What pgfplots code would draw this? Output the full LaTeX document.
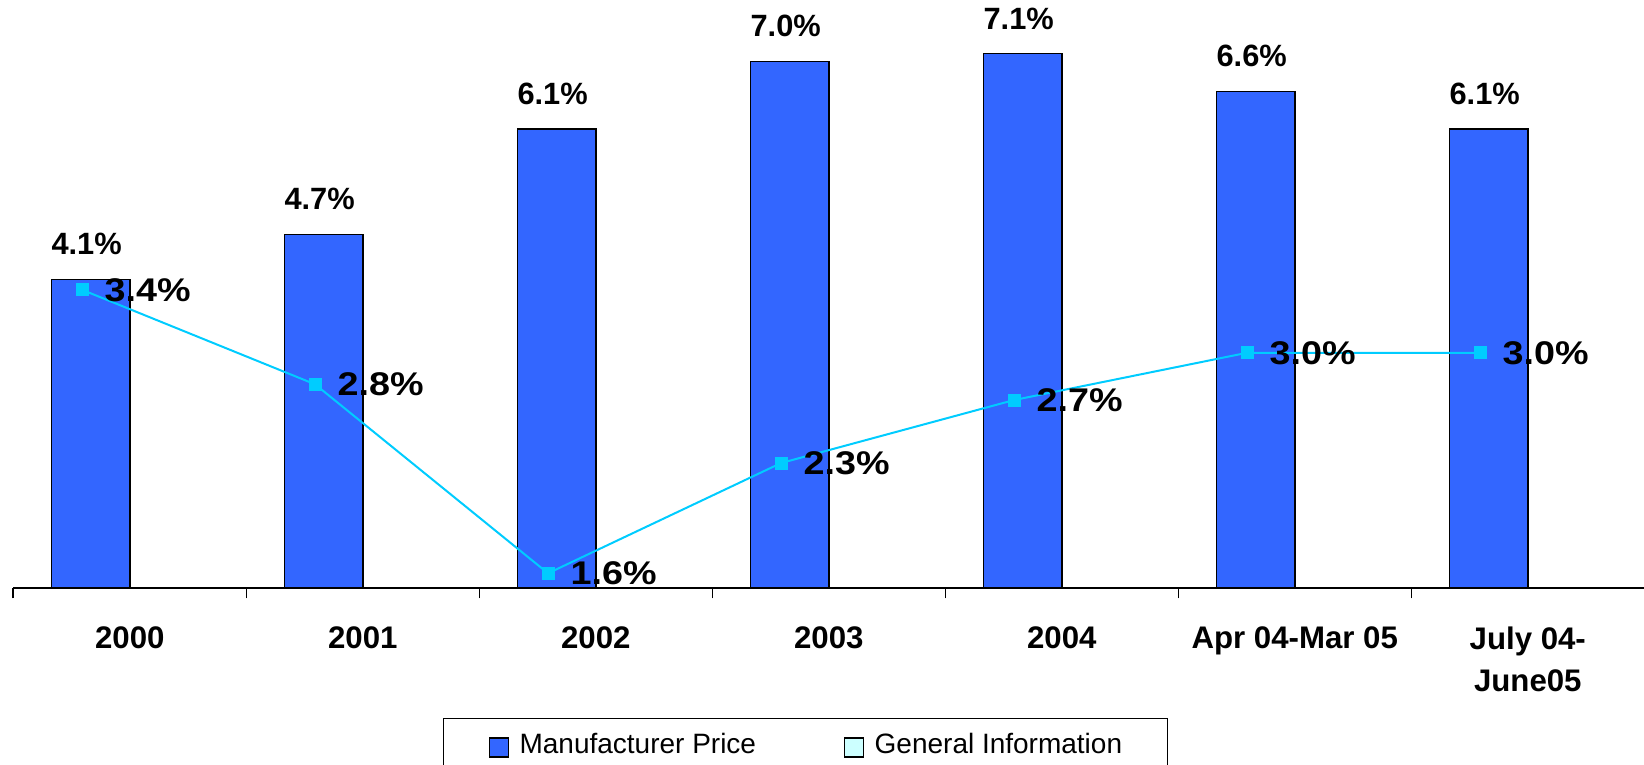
\documentclass[border=0pt]{standalone}
\usepackage{fontspec}
\setmainfont{Liberation Sans}
\newfontfamily\widefont[FakeStretch=1.15]{Liberation Sans}
\usepackage{pgfplots}
\usepackage{pgfplotstable}
\pgfplotsset{compat=1.18}
\definecolor{mpblue}{HTML}{3366FF}
\definecolor{gicyan}{HTML}{00CCFF}
\definecolor{gilight}{HTML}{CCFFFF}

\pgfplotstableread{
x mp
0 4.1
1 4.7
2 6.1
3 7.0
4 7.1
5 6.6
6 6.1
}\mpdata

\pgfplotstableread{
x gi
0 3.4
1 2.8
2 1.6
3 2.3
4 2.7
5 3.0
6 3.0
}\gidata

\begin{document}
\begin{tikzpicture}
\useasboundingbox (0,0) rectangle (822pt,382.5pt);
\begin{axis}[
  at={(6.65pt,88.65pt)}, anchor=south west,
  scale only axis, width=815.5pt, height=293.85pt,
  xmin=-0.5, xmax=6.5, ymin=0, ymax=7.815,
  axis x line=bottom, axis y line=none,
  x axis line style={-, line width=1pt, black},
  xtick={0,...,6},
  xticklabels={2000,2001,2002,2003,2004,Apr 04-Mar 05,{July 04-\\June05}},
  major tick length=0pt,
  minor xtick={-0.5,0.5,...,6.5},
  minor tick length=5.3pt,
  tick align=outside,
  tick style={black, line width=0.8pt},
  xticklabel style={font=\fontsize{15.6}{21}\selectfont\bfseries, align=center, anchor=north, inner sep=0pt, yshift=-19.15pt},
  ybar, bar width=39.14pt, bar shift=-19.57pt,
  /pgf/number format/assume math mode=true,
  nodes near coords={\pgfmathprintnumber[fixed,fixed zerofill,precision=1]{\pgfplotspointmeta}\%},
  nodes near coords style={font=\fontsize{15.4}{18}\selectfont\bfseries, anchor=base, inner sep=0pt, yshift=12.3pt, xshift=-2pt, black},
  clip=false,
  legend columns=2,
  legend style={
    at={(axis description cs:0.2633,-0.2212)}, anchor=north west,
    draw=black, line width=0.6pt,
    font=\fontsize{14}{17}\selectfont,
    inner xsep=22.8pt, inner ysep=7.5pt,
    nodes={inner sep=0pt, text height=10.3pt, text depth=14pt},
    /tikz/every odd column/.append style={column sep=5.2pt},
    /tikz/every even column/.append style={column sep=44pt},
  },
]
\addplot[fill=mpblue, draw=black, line width=0.7pt,
  legend image code/.code={\draw[fill=mpblue,draw=black,line width=0.6pt] (0pt,0.3pt) rectangle (9.5pt,9.8pt);}]
  table[x=x, y=mp] {\mpdata};
\addlegendentry{Manufacturer Price}
\addlegendimage{legend image code/.code={\draw[fill=gilight,draw=black,line width=0.6pt] (0pt,0.3pt) rectangle (9.5pt,9.8pt);}}
\addlegendentry{General Information}
\end{axis}
\begin{axis}[
  at={(6.65pt,88.65pt)}, anchor=south west,
  scale only axis, width=815.5pt, height=293.85pt,
  xmin=-0.5, xmax=6.5, ymin=1.5086, ymax=5.24,
  hide axis, clip=false,
  /pgf/number format/assume math mode=true,
]
\addplot[gicyan, line width=1pt, mark=square*, mark size=2.75pt,
  mark options={solid, fill=gicyan, draw=gicyan},
  nodes near coords={\pgfmathprintnumber[fixed,fixed zerofill,precision=1]{\pgfplotspointmeta}\%},
  nodes near coords style={font=\widefont\fontsize{16.4}{18}\selectfont\bfseries, anchor=west, inner sep=0pt, xshift=10.8pt, black}]
  table[x expr=\thisrow{x}-0.205, y=gi] {\gidata};
\end{axis}
\end{tikzpicture}
\end{document}
